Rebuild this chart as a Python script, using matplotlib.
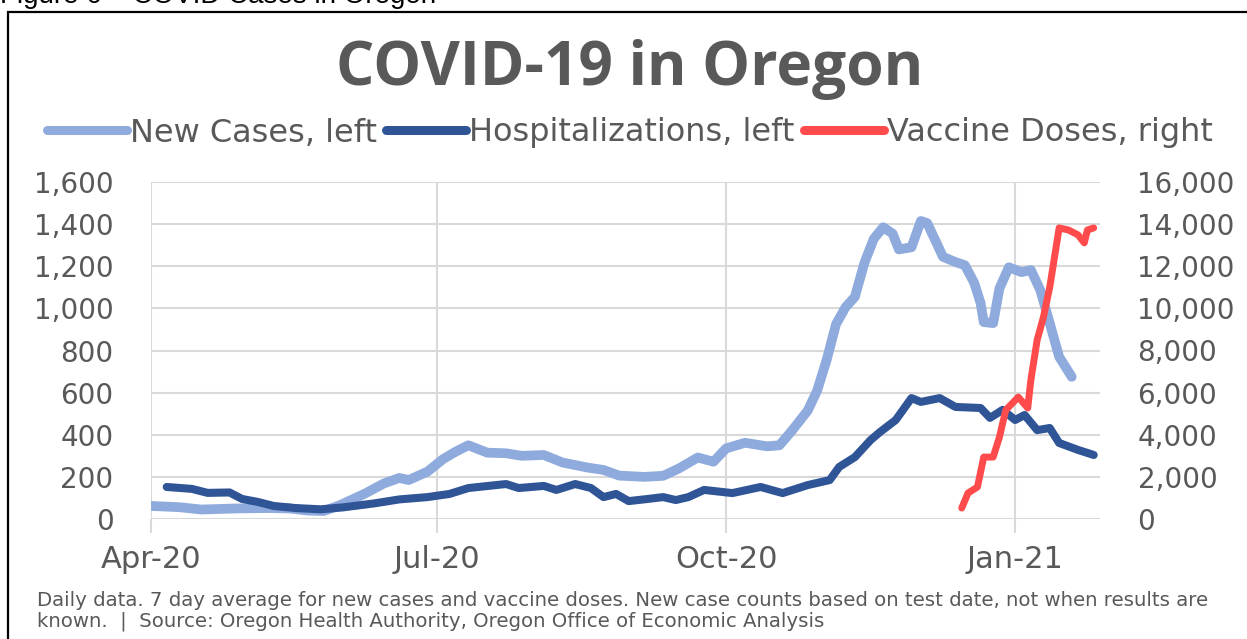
import matplotlib
matplotlib.use("Agg")
import matplotlib.pyplot as plt
import matplotlib.dates as mdates
import pandas as pd
from matplotlib.patches import Rectangle
from matplotlib.lines import Line2D

# --- data ---
case_dates = ['2020-04-01', '2020-04-10', '2020-04-17', '2020-04-28', '2020-05-08', '2020-05-15',
              '2020-05-21', '2020-05-26', '2020-05-31', '2020-06-08', '2020-06-14', '2020-06-19',
              '2020-06-22', '2020-06-28', '2020-07-03', '2020-07-07', '2020-07-11', '2020-07-17',
              '2020-07-23', '2020-07-28', '2020-08-04', '2020-08-10', '2020-08-18', '2020-08-23',
              '2020-08-28', '2020-09-05', '2020-09-11', '2020-09-16', '2020-09-22', '2020-09-27',
              '2020-10-01', '2020-10-07', '2020-10-14', '2020-10-18', '2020-10-22', '2020-10-27',
              '2020-10-30', '2020-11-02', '2020-11-05', '2020-11-08', '2020-11-11', '2020-11-14',
              '2020-11-17', '2020-11-20', '2020-11-23', '2020-11-25', '2020-11-29', '2020-12-02',
              '2020-12-04', '2020-12-07', '2020-12-09', '2020-12-13', '2020-12-16', '2020-12-19',
              '2020-12-21', '2020-12-22', '2020-12-25', '2020-12-27', '2020-12-30', '2021-01-03',
              '2021-01-06', '2021-01-09', '2021-01-12', '2021-01-15', '2021-01-19']
new_cases = [62, 56, 45, 50, 52, 50,
             40, 38, 65, 120, 168, 195,
             185, 225, 285, 320, 350, 315,
             312, 300, 304, 268, 244, 233,
             206, 200, 205, 240, 292, 272,
             335, 362, 345, 350, 420, 515,
             610, 755, 925, 1005, 1055, 1215,
             1330, 1385, 1355, 1280, 1290, 1415,
             1405, 1310, 1245, 1220, 1205, 1120,
             1025, 935, 930, 1095, 1195, 1172,
             1182, 1087, 930, 770, 675]

hosp_dates = ['2020-04-06', '2020-04-14', '2020-04-19', '2020-04-26', '2020-04-30', '2020-05-05',
              '2020-05-10', '2020-05-17', '2020-05-25', '2020-06-01', '2020-06-11', '2020-06-19',
              '2020-06-28', '2020-07-05', '2020-07-11', '2020-07-23', '2020-07-27', '2020-08-04',
              '2020-08-08', '2020-08-14', '2020-08-19', '2020-08-23', '2020-08-27', '2020-08-31',
              '2020-09-06', '2020-09-11', '2020-09-15', '2020-09-19', '2020-09-24', '2020-09-30',
              '2020-10-03', '2020-10-12', '2020-10-19', '2020-10-27', '2020-11-03', '2020-11-06',
              '2020-11-11', '2020-11-16', '2020-11-19', '2020-11-24', '2020-11-29', '2020-12-02',
              '2020-12-08', '2020-12-13', '2020-12-21', '2020-12-24', '2020-12-28', '2021-01-01',
              '2021-01-04', '2021-01-08', '2021-01-12', '2021-01-15', '2021-01-21', '2021-01-26']
hospitalizations = [152, 143, 124, 126, 95, 81,
                    62, 52, 46, 55, 74, 93,
                    104, 119, 147, 166, 147, 157,
                    138, 166, 147, 104, 119, 85,
                    95, 104, 90, 104, 138, 128,
                    123, 152, 123, 161, 185, 247,
                    294, 375, 413, 470, 574, 556,
                    574, 532, 527, 480, 518, 470,
                    494, 422, 432, 361, 328, 304]

vax_dates = ['2020-12-15', '2020-12-17', '2020-12-20', '2020-12-22', '2020-12-25', '2020-12-27',
             '2020-12-29', '2021-01-02', '2021-01-05', '2021-01-06', '2021-01-08', '2021-01-10',
             '2021-01-12', '2021-01-15', '2021-01-18', '2021-01-21', '2021-01-23', '2021-01-24',
             '2021-01-26']
vaccine_doses = [520, 1230, 1520, 2940, 2940, 3890,
                 5170, 5790, 5270, 6600, 8500, 9590,
                 11000, 13820, 13720, 13490, 13110, 13720,
                 13820]

left_ticks = [0, 200, 400, 600, 800, 1000, 1200, 1400, 1600]
right_ticks = [0, 2000, 4000, 6000, 8000, 10000, 12000, 14000, 16000]
month_ticks = ['2020-04-01', '2020-07-01', '2020-10-01', '2021-01-01']

light = '#8FAADC'
dark = '#2F5597'
red = '#FF4B4B'
grey = '#595959'
gridc = '#D9D9D9'

W, H = 1247, 639
fig = plt.figure(figsize=(W / 100, H / 100), dpi=100)
fig.patch.set_facecolor('white')

# frame around the chart (cut off by the page edges)
fig.patches.append(Rectangle((8 / W, -0.1), 1.2, 1 - 12 / H + 0.1, transform=fig.transFigure,
                             fill=False, edgecolor='black', linewidth=1.6))
fig.text(0.0, 1 - 3 / H, 'Figure 6 \u2013 COVID Cases in Oregon', ha='left', va='baseline',
         fontsize=20, family='Liberation Sans', color='black')

ax = fig.add_axes([151 / W, 1 - 519 / H, (1100 - 151) / W, (519 - 182) / H])
ax2 = ax.twinx()

ax.plot(pd.to_datetime(case_dates), new_cases, color=light, lw=7, solid_capstyle='round',
        solid_joinstyle='round', label='New Cases, left')
ax.plot(pd.to_datetime(hosp_dates), hospitalizations, color=dark, lw=5.8, solid_capstyle='round',
        solid_joinstyle='round', label='Hospitalizations, left')
ax2.plot(pd.to_datetime(vax_dates), vaccine_doses, color=red, lw=5, solid_capstyle='round',
         solid_joinstyle='round', label='Vaccine Doses, right')

ax.set_xlim(pd.Timestamp('2020-04-01'), pd.Timestamp('2021-01-28'))
ax.set_ylim(0, 1600)
ax2.set_ylim(0, 16000)
ax.set_yticks(left_ticks)
ax.set_yticklabels(['{:,}'.format(v) for v in left_ticks])
ax2.set_yticks(right_ticks)
ax2.set_yticklabels(['{:,}'.format(v) for v in right_ticks])
ax.set_xticks(pd.to_datetime(month_ticks))
ax.xaxis.set_major_formatter(mdates.DateFormatter('%b-%y'))

ax.grid(True, color=gridc, lw=1.5)
ax.set_axisbelow(True)
for a in (ax, ax2):
    for s in a.spines.values():
        s.set_visible(False)
ax.tick_params(axis='x', length=10, width=1.5, color=gridc, labelsize=22, labelcolor=grey, pad=9)
ax.tick_params(axis='y', length=0, labelsize=20, labelcolor=grey, pad=27)
ax2.tick_params(axis='y', length=0, labelsize=20, labelcolor=grey, pad=27)

fig.text(630 / W, 1 - 70 / H, 'COVID-19 in Oregon', ha='center', va='center',
         fontsize=43.5, fontweight='bold', family='Open Sans', color=grey)

handles = [Line2D([], [], color=light, lw=6.5, solid_capstyle='round'),
           Line2D([], [], color=dark, lw=6.5, solid_capstyle='round'),
           Line2D([], [], color=red, lw=6.5, solid_capstyle='round')]
labels = ['New Cases, left', 'Hospitalizations, left', 'Vaccine Doses, right']
leg = fig.legend(handles, labels, loc='center', bbox_to_anchor=(630 / W, 1 - 133 / H), ncol=3,
                 frameon=False, fontsize=23, handlelength=2.5, handletextpad=0.1,
                 columnspacing=0.3, borderpad=0)
for t in leg.get_texts():
    t.set_color(grey)

fig.text(37 / W, 1 - 601 / H,
         'Daily data. 7 day average for new cases and vaccine doses. New case counts based on test date, not when results are',
         ha='left', va='center', fontsize=14.2, color=grey)
fig.text(37 / W, 1 - 621 / H,
         'known.  |  Source: Oregon Health Authority, Oregon Office of Economic Analysis',
         ha='left', va='center', fontsize=14.2, color=grey)

fig.savefig('out.png', dpi=100, facecolor='white')
